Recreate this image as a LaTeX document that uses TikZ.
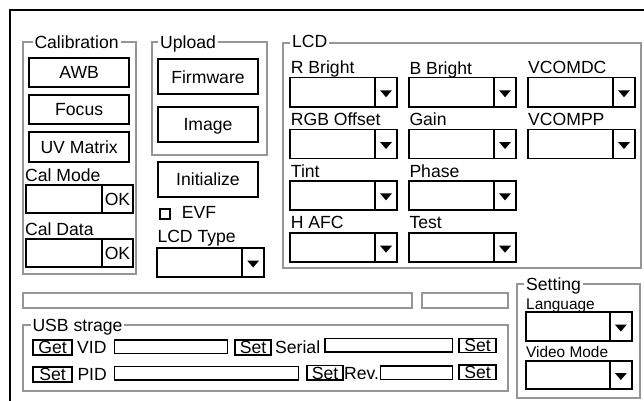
\documentclass[tikz,border=0pt]{standalone}
\usepackage{fontspec}
\setmainfont{Liberation Sans}
\definecolor{framegray}{RGB}{150,150,150}
\tikzset{
  groupframe/.style={draw=framegray, line width=2pt, inner sep=0pt},
  ctlbox/.style={draw=black, line width=1.8pt, inner sep=0pt, text height=12.6pt, text depth=0pt},
  thinbox/.style={draw=black, line width=1.4pt, inner sep=0pt},
  grouptitle/.style={anchor=base west, fill=white, inner xsep=2pt, inner ysep=1pt},
  lbl/.style={anchor=base west, inner sep=0pt},
  smalllbl/.style={lbl, font=\fontsize{15.4}{18}\selectfont},
}
% rectangle node: style, name, x1, y1, x2, y2, text
\newcommand\ctlrect[7]{%
  \node[#1, minimum width={#5-#3}, minimum height={#6-#4}] (#2) at ({(#3+#5)/2},{(#4+#6)/2}) {#7};}
% drop-down list: name, x1, y1, x2, y2, x of the arrow cell
\newcommand\combo[6]{%
  \ctlrect{ctlbox}{#1}{#2}{#3}{#4}{#5}{}%
  \draw[black, line width=1.8pt] (#6,#3) -- (#6,#5);
  \pgfmathsetmacro\arrcx{(#6+#4)/2}\pgfmathsetmacro\arrcy{(#3+#5)/2+1.5}%
  \fill (\arrcx-6,\arrcy-3.5) -- (\arrcx+6,\arrcy-3.5) -- (\arrcx,\arrcy+3.5) -- cycle;}
% entry field with an OK cell: name, x1, y1, x2, y2, x of the OK cell
\newcommand\okfield[6]{%
  \ctlrect{ctlbox}{#1}{#2}{#3}{#4}{#5}{}%
  \draw[black, line width=1.8pt] (#6,#3) -- (#6,#5);
  \node[inner sep=0pt, text height=12.6pt, text depth=0pt] (#1-ok) at ({(#6+#4)/2},{(#3+#5)/2}) {OK};}
\begin{document}
\begin{tikzpicture}[x=1pt, y=-1pt, font=\fontsize{17.6}{21}\selectfont]
\clip (0,0) rectangle (644,400);
\fill[white] (0,0) rectangle (644,400);
% window border
\draw[line width=2.5pt] (10,420) -- (10,10) -- (670,10);

% ---- Calibration ----
\ctlrect{groupframe}{calgroup}{22.7}{41.7}{136}{274.3}{}
\node[grouptitle] (caltitle) at (32.3,48.3) {Calibration};
\ctlrect{ctlbox}{awb}{29.3}{57.7}{129}{86.7}{AWB}
\ctlrect{ctlbox}{focus}{29.3}{95}{129}{124}{Focus}
\ctlrect{ctlbox}{uvmatrix}{29.3}{132.3}{129}{161.7}{UV Matrix}
\node[lbl] (calmodelbl) at (25,181) {Cal Mode};
\okfield{calmode}{26}{185}{132.7}{213.3}{102.3}
\node[lbl] (caldatalbl) at (25,235) {Cal Data};
\okfield{caldata}{26}{239.3}{132.7}{267.3}{102.3}

% ---- Upload ----
\ctlrect{groupframe}{upgroup}{151.7}{41.7}{266.7}{155}{}
\node[grouptitle] (uptitle) at (158,48.3) {Upload};
\ctlrect{ctlbox}{firmware}{157.7}{59.3}{258.3}{94.3}{Firmware}
\ctlrect{ctlbox}{image}{157.7}{106.7}{258.3}{141.7}{Image}
\ctlrect{ctlbox}{initialize}{157.7}{162.3}{258.3}{196.7}{Initialize}
\ctlrect{thinbox}{evfbox}{160}{208.8}{170}{218.8}{}
\node[lbl] (evflbl) at (181.7,218.5) {EVF};
\node[lbl] (lcdtypelbl) at (157.3,242) {LCD Type};
\combo{lcdtype}{157.3}{248.3}{264}{276.7}{242.3}

% ---- LCD ----
\ctlrect{groupframe}{lcdgroup}{283.3}{42.5}{641}{268.3}{}
\node[grouptitle] (lcdtitle) at (290,47.5) {LCD};
\node[lbl] (rbrightlbl) at (290.7,73.3) {R Bright};
\node[lbl] (bbrightlbl) at (409.3,74) {B Bright};
\node[lbl] (vcomdclbl)  at (528,73.3) {VCOMDC};
\combo{rbright}{290}{77.5}{397}{107}{375}
\combo{bbright}{409}{77.5}{516}{107}{494}
\combo{vcomdc}{528}{77.5}{635}{107}{613}
\node[lbl] (rgboffsetlbl) at (290.7,125.5) {RGB Offset};
\node[lbl] (gainlbl)      at (409.3,125.5) {Gain};
\node[lbl] (vcompplbl)    at (528,125.5) {VCOMPP};
\combo{rgboffset}{290}{129.5}{397}{158.5}{375}
\combo{gain}{409}{129.5}{516}{158.5}{494}
\combo{vcompp}{528}{129.5}{635}{158.5}{613}
\node[lbl] (tintlbl)  at (290.7,177) {Tint};
\node[lbl] (phaselbl) at (409.3,177) {Phase};
\combo{tint}{290}{181}{397}{209.7}{375}
\combo{phase}{409}{181}{516}{209.7}{494}
\node[lbl] (hafclbl) at (290.7,228.8) {H AFC};
\node[lbl] (testlbl) at (409.3,228.8) {Test};
\combo{hafc}{290}{233.3}{397}{262}{375}
\combo{test}{409}{233.3}{516}{262}{494}

% ---- progress bars ----
\ctlrect{groupframe}{barmain}{22.7}{292.5}{411.7}{308.3}{}
\ctlrect{groupframe}{barside}{421.7}{292.5}{507.7}{308.3}{}

% ---- USB strage ----
\ctlrect{groupframe}{usbgroup}{22.7}{325}{507.7}{390.5}{}
\node[grouptitle] (usbtitle) at (30.3,331.7) {USB strage};
\ctlrect{ctlbox}{getvid}{33.3}{340}{71.7}{355}{Get}
\node[lbl] (vidlbl) at (77,353.6) {VID};
\ctlrect{thinbox}{vidfield}{114.3}{340}{227.7}{353.3}{}
\ctlrect{ctlbox}{setvid}{235}{340}{271}{355}{Set}
\node[lbl] (seriallbl) at (275,353.6) {Serial};
\ctlrect{thinbox}{serialfield}{325}{338.5}{452.7}{352}{}
\ctlrect{ctlbox}{setserial}{459.3}{338.5}{496}{352.5}{Set}
\ctlrect{ctlbox}{setpidl}{33.3}{367}{71.7}{381.7}{Set}
\node[lbl] (pidlbl) at (77.3,380.2) {PID};
\ctlrect{thinbox}{pidfield}{114.3}{366.5}{298.3}{380}{}
\ctlrect{ctlbox}{setpid}{307.3}{365.5}{342.7}{380}{Set}
\node[lbl] (revlbl) at (344,379.2) {Rev.};
\ctlrect{thinbox}{revfield}{380.5}{366}{452.7}{379.5}{}
\ctlrect{ctlbox}{setrev}{459.3}{365}{496}{379.5}{Set}

% ---- Setting ----
\ctlrect{groupframe}{setgroup}{516.7}{284}{640}{398.3}{}
\node[grouptitle] (settitle) at (524,290) {Setting};
\node[smalllbl] (langlbl) at (526,309) {Language};
\combo{language}{526}{312.3}{631.7}{340.7}{610}
\node[smalllbl] (videolbl) at (526,357.3) {Video Mode};
\combo{videomode}{526}{360.7}{631.7}{389.3}{610}
\end{tikzpicture}
\end{document}
